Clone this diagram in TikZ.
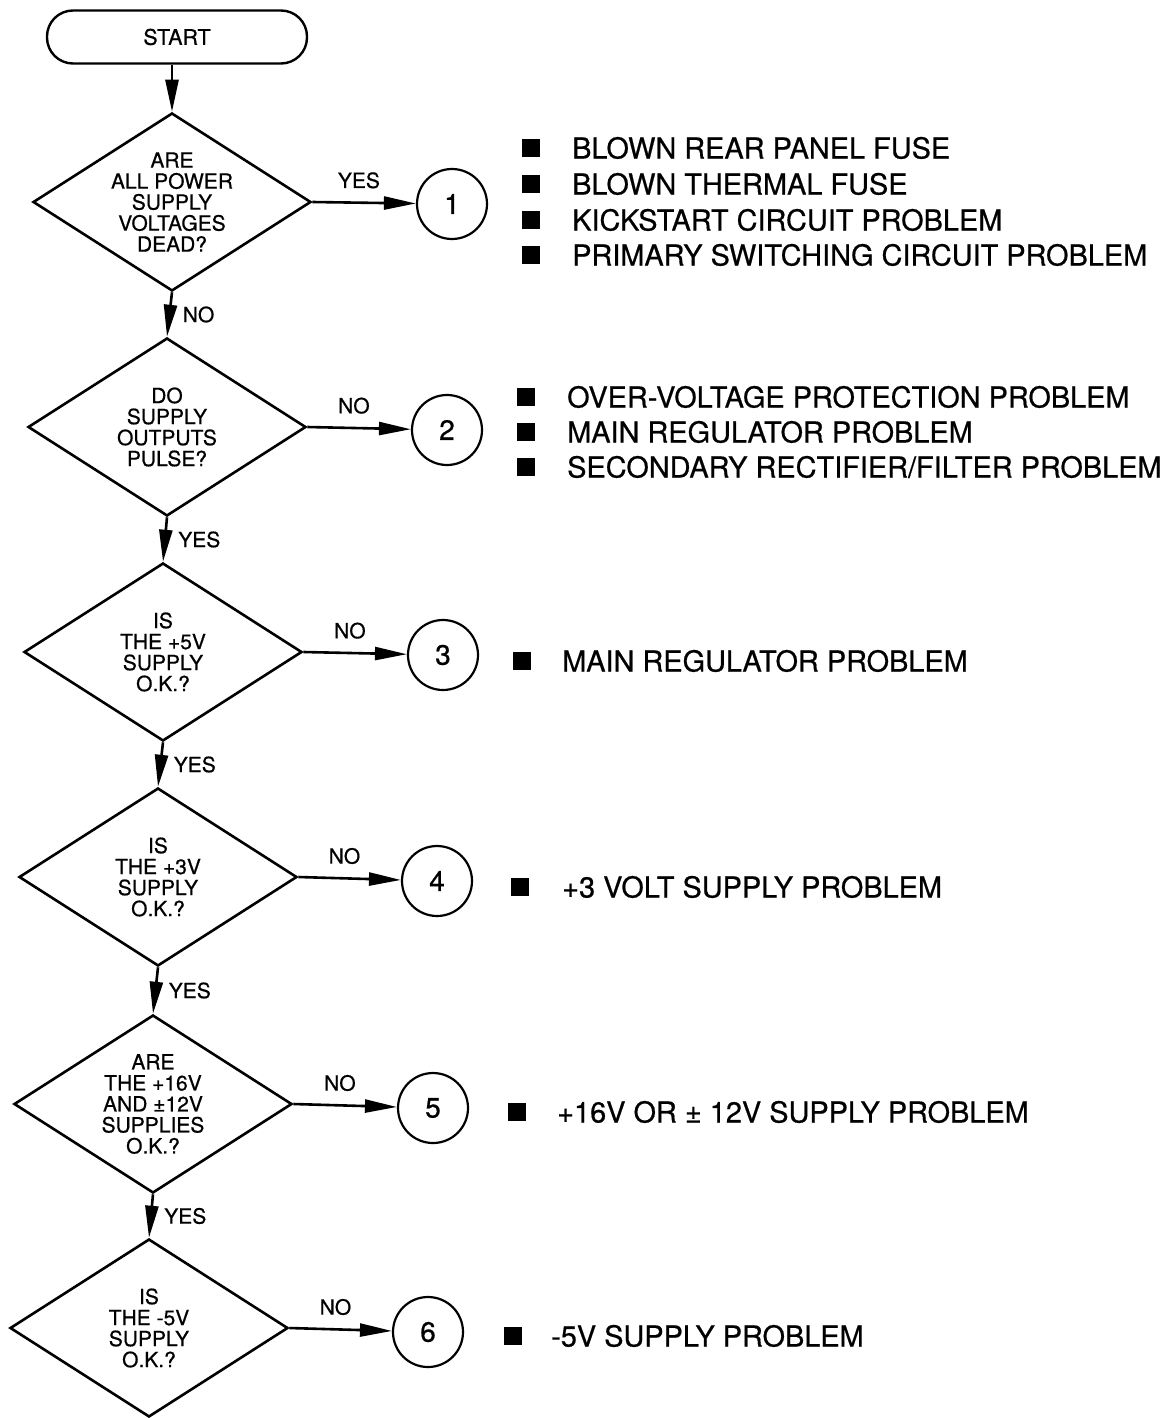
\documentclass[tikz,border=0pt]{standalone}
\usepackage{fontspec}
\setmainfont{TeX Gyre Heros}[FakeBold=0.6]
\usetikzlibrary{shapes.geometric,arrows.meta}
\begin{document}
\begin{tikzpicture}[x=1pt,y=1pt,
  every node/.style={inner sep=0pt},
  dia/.style={diamond, draw, line width=2.6pt, minimum width=278pt, minimum height=178pt,
    inner sep=-30pt, align=center, font=\fontsize{21}{21}\selectfont},
  term/.style={rectangle, rounded corners=26pt, draw, line width=2.4pt,
    minimum width=260pt, minimum height=53pt, font=\fontsize{21.5}{21}\selectfont},
  conn/.style={circle, draw, line width=2.2pt, minimum size=70pt, font=\fontsize{28}{28}\selectfont},
  flow/.style={line width=2.6pt, -{Triangle[length=32pt,width=13pt]}},
  bul/.style={fill=black, minimum width=18pt, minimum height=18pt},
  item/.style={anchor=west, text height=21pt, text depth=0pt, font=\fontsize{28.9}{29}\selectfont},
  lbl/.style={font=\fontsize{21}{21}\selectfont}
]
\useasboundingbox[fill=white] (0,0) rectangle (1172,-1418);

% flow nodes
\node[term] (start) at (177,-37) {START};
\node[dia] (d1) at (172,-202) {ARE\\ALL POWER\\SUPPLY\\VOLTAGES\\DEAD?};
\node[dia] (d2) at (167,-427) {DO\\SUPPLY\\OUTPUTS\\PULSE?};
\node[dia] (d3) at (163,-652) {IS\\THE +5V\\SUPPLY\\O.K.?};
\node[dia] (d4) at (158,-877) {IS\\THE +3V\\SUPPLY\\O.K.?};
\node[dia] (d5) at (153,-1104) {ARE\\THE +16V\\AND ±12V\\SUPPLIES\\O.K.?};
\node[dia] (d6) at (149,-1328) {IS\\THE -5V\\SUPPLY\\O.K.?};

\node[conn] (c1) at (452,-204) {1};
\node[conn] (c2) at (447,-430) {2};
\node[conn] (c3) at (443,-655) {3};
\node[conn] (c4) at (437,-881) {4};
\node[conn] (c5) at (433,-1108) {5};
\node[conn] (c6) at (428,-1332) {6};

% connectors
\draw[flow] (d1.north |- start.south) -- (d1.north);
\draw[flow] (d1.south) -- node[lbl, right=12pt] {NO} (d2.north);
\draw[flow] (d2.south) -- node[lbl, right=12pt] {YES} (d3.north);
\draw[flow] (d3.south) -- node[lbl, right=12pt] {YES} (d4.north);
\draw[flow] (d4.south) -- node[lbl, right=12pt] {YES} (d5.north);
\draw[flow] (d5.south) -- node[lbl, right=12pt] {YES} (d6.north);

\draw[flow] (d1.east) -- node[lbl, above=13pt, pos=0.45] {YES} (c1);
\draw[flow] (d2.east) -- node[lbl, above=13pt, pos=0.45] {NO} (c2);
\draw[flow] (d3.east) -- node[lbl, above=13pt, pos=0.45] {NO} (c3);
\draw[flow] (d4.east) -- node[lbl, above=13pt, pos=0.45] {NO} (c4);
\draw[flow] (d5.east) -- node[lbl, above=13pt, pos=0.45] {NO} (c5);
\draw[flow] (d6.east) -- node[lbl, above=13pt, pos=0.45] {NO} (c6);

% causes
\node[bul] (b11) at (531,-148) {};
\node[item] (t11) at (572,-148) {BLOWN REAR PANEL FUSE};
\node[bul] (b12) at (531,-184) {};
\node[item] (t12) at (572,-184) {BLOWN THERMAL FUSE};
\node[bul] (b13) at (531,-220) {};
\node[item] (t13) at (572,-220) {KICKSTART CIRCUIT PROBLEM};
\node[bul] (b14) at (531,-255) {};
\node[item] (t14) at (572,-255) {PRIMARY SWITCHING CIRCUIT PROBLEM};

\node[bul] (b21) at (526,-397) {};
\node[item] (t21) at (567,-397) {OVER-VOLTAGE PROTECTION PROBLEM};
\node[bul] (b22) at (526,-432) {};
\node[item] (t22) at (567,-432) {MAIN REGULATOR PROBLEM};
\node[bul] (b23) at (526,-467) {};
\node[item] (t23) at (567,-467) {SECONDARY RECTIFIER/FILTER PROBLEM};

\node[bul] (b31) at (522,-661) {};
\node[item] (t31) at (562,-661) {MAIN REGULATOR PROBLEM};

\node[bul] (b41) at (520,-887) {};
\node[item] (t41) at (562,-887) {+3 VOLT SUPPLY PROBLEM};

\node[bul] (b51) at (517,-1112) {};
\node[item] (t51) at (557,-1112) {+16V OR ± 12V SUPPLY PROBLEM};

\node[bul] (b61) at (513,-1336) {};
\node[item] (t61) at (551,-1336) {-5V SUPPLY PROBLEM};
\end{tikzpicture}
\end{document}
